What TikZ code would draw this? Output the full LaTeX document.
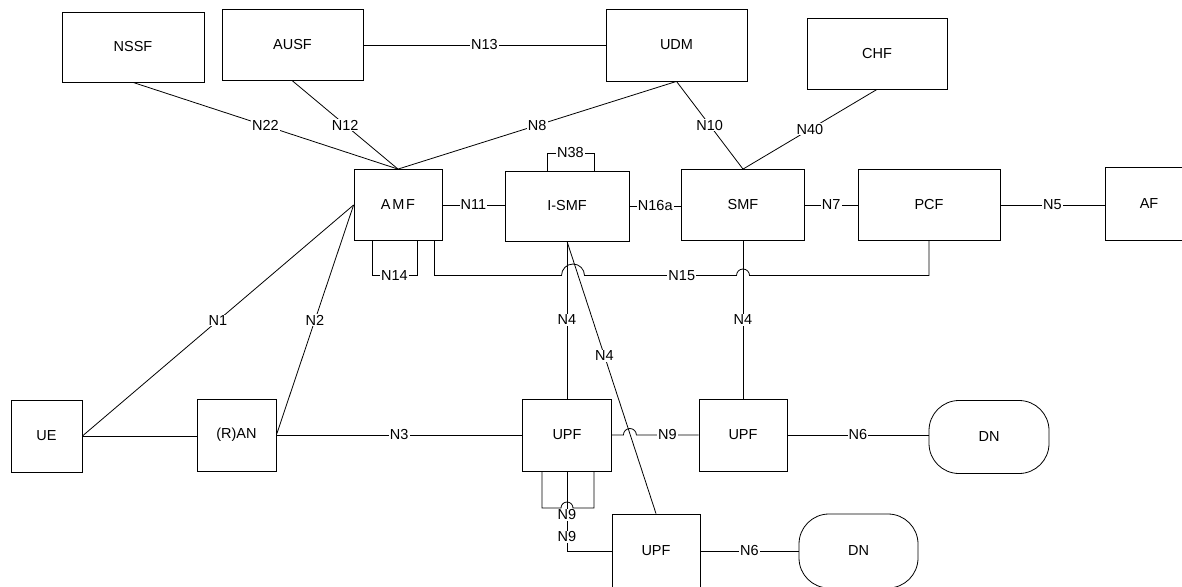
\documentclass[tikz,border=0pt]{standalone}
\usepackage{fontspec}
\setmainfont{Liberation Sans}
\newcommand\fsz{\fontsize{14.5}{17}\selectfont}
\begin{document}
\begin{tikzpicture}[x=1pt,y=-1pt, line width=0.8pt,
  box/.style={draw, inner sep=0pt, font=\fsz, fill=white},
  lbl/.style={fill=white, inner sep=1pt, font=\fsz}]
\useasboundingbox (0,0) rectangle (1182,586);
% boxes
\node[box, minimum width=142pt, minimum height=70pt] (nssf) at (133,47) {NSSF};
\node[box, minimum width=141pt, minimum height=71pt] (ausf) at (292.5,45) {AUSF};
\node[box, minimum width=141pt, minimum height=72pt] (udm) at (676.5,45) {UDM};
\node[box, minimum width=140pt, minimum height=71pt] (chf) at (877,53.5) {CHF};
\node[box, minimum width=88pt, minimum height=71pt] (amf) at (398,205) {\addfontfeature{LetterSpace=12}AMF};
\node[box, minimum width=124pt, minimum height=70pt] (ismf) at (567,206) {I-SMF};
\node[box, minimum width=123pt, minimum height=71pt] (smf) at (743,205) {SMF};
\node[box, minimum width=142pt, minimum height=71pt] (pcf) at (929,205) {PCF};
\node[box, minimum width=88pt, minimum height=73pt] (af) at (1149,204) {AF};
\node[box, minimum width=71pt, minimum height=72pt] (ue) at (46.5,436) {UE};
\node[box, minimum width=79pt, minimum height=72pt] (ran) at (236.5,435) {(R)AN};
\node[box, minimum width=89pt, minimum height=72pt] (upf1) at (567,435) {UPF};
\node[box, minimum width=88pt, minimum height=72pt] (upf2) at (743,435) {UPF};
\node[box, minimum width=88pt, minimum height=74pt] (upf3) at (656,551) {UPF};
\node[box, rounded corners=30pt, minimum width=120pt, minimum height=73pt] (dn1) at (989,437) {DN};
\node[box, rounded corners=30pt, minimum width=119pt, minimum height=74pt] (dn2) at (858.5,551) {DN};
% coordinates for levels
\coordinate (n15y) at (0,275.5);
\coordinate (n14y) at (0,275.5);
\coordinate (n38y) at (0,153);
\coordinate (loopy) at (0,508);
% top connectors
\draw (ausf.east) -- node[lbl]{N13} (ausf.east -| udm.west);
\draw (nssf.south) -- node[lbl]{N22} (amf.north);
\draw (ausf.south) -- node[lbl]{N12} (amf.north);
\draw (udm.south) -- node[lbl]{N8} (amf.north);
\draw (udm.south) -- node[lbl]{N10} (smf.north);
\draw (chf.south) -- node[lbl]{N40} (smf.north);
% middle row
\draw (amf.east) -- node[lbl]{N11} (amf.east -| ismf.west);
\draw (ismf.east) -- node[lbl]{N16a} (ismf.east -| smf.west);
\draw (smf.east) -- node[lbl]{N7} (pcf.west);
\draw (pcf.east) -- node[lbl]{N5} (pcf.east -| af.west);
% loops
\draw ([xshift=-26pt]amf.south) |- ([xshift=19pt]amf.south |- n14y) -- ([xshift=19pt]amf.south);
\node[lbl] (n14) at (394.5,275.5) {N14};
\draw ([xshift=-20pt]ismf.north) |- ([xshift=27pt]ismf.north |- n38y) -- ([xshift=27pt]ismf.north);
\node[lbl] (n38) at (570.5,153) {N38};
% N1, N2, N3
\draw (ue.east) -- (ue.east -| ran.west);
\draw (ue.east) -- node[lbl]{N1} (amf.west);
\draw (ran.east) -- node[lbl]{N2} (amf.west);
\draw (ran.east) -- node[lbl]{N3} (upf1.west);
% N4
\draw (ismf.south) -- node[lbl]{N4} (upf1.north);
\draw (ismf.south) -- node[lbl, pos=0.42]{N4} (upf3.north);
\draw (smf.south) -- node[lbl]{N4} (upf2.north);
% N15 with hops
\draw ([xshift=-8pt]amf.south east) |- ([xshift=-5.5pt]ismf.south |- n15y)
  arc[start angle=180, end angle=0, radius=11.5pt]
  -- node[lbl, pos=0.64]{N15} ([xshift=-6.5pt]smf.south |- n15y)
  arc[start angle=180, end angle=0, radius=6.5pt]
  -- (pcf.south |- n15y) -- (pcf.south);
% N9 between UPF1 and UPF2
\draw (upf1.east) -- ([xshift=11.5pt]upf1.east)
  arc[start angle=180, end angle=0, radius=6.5pt]
  -- node[lbl]{N9} (upf2.west);
% N6
\draw (upf2.east) -- node[lbl]{N6} (upf2.east -| dn1.west);
\draw (upf3.east) -- node[lbl]{N6} (dn2.west);
% UPF1 to UPF3 N9
\draw (upf1.south) |- node[lbl, pos=0.41]{N9} (upf3.west);
% UPF1 self loop N9
\node[lbl] (n9loop) at (567,515) {N9};
\draw ([xshift=-25pt]upf1.south) |- ([xshift=-6pt]upf1.south |- loopy)
  arc[start angle=180, end angle=0, radius=6pt]
  -| ([xshift=27pt]upf1.south);
\end{tikzpicture}
\end{document}
